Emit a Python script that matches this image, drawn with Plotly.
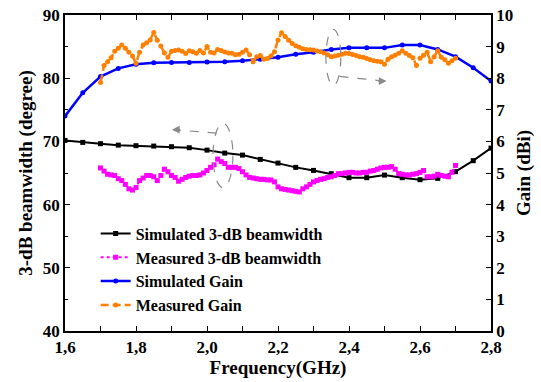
import plotly.graph_objects as go

# Simulated results (every 0.05 GHz)
sim_freq = [1.60, 1.65, 1.70, 1.75, 1.80, 1.85, 1.90, 1.95, 2.00, 2.05, 2.10, 2.15,
            2.20, 2.25, 2.30, 2.35, 2.40, 2.45, 2.50, 2.55, 2.60, 2.65, 2.70, 2.75, 2.80]
sim_bw = [70.16, 69.84, 69.64, 69.41, 69.32, 69.26, 69.16, 69.00, 68.62, 68.15, 67.83, 67.15,
          66.57, 65.89, 65.41, 64.89, 64.26, 64.26, 64.67, 64.26, 63.94, 64.15, 65.21, 66.95, 68.94]
sim_gain = [6.80, 7.54, 8.05, 8.31, 8.44, 8.49, 8.50, 8.50, 8.51, 8.52, 8.55, 8.60,
            8.66, 8.76, 8.82, 8.91, 8.96, 8.96, 8.96, 9.05, 9.05, 8.91, 8.68, 8.33, 7.91]

# Measured results (every 0.01 GHz, 1.70 - 2.70 GHz)
meas_freq = [round(1.70 + 0.01 * i, 2) for i in range(101)]
meas_bw = [
    65.8, 65.3, 64.8, 64.7, 64.6, 64.1, 63.8, 63.2, 62.5, 62.3,
    62.7, 63.8, 64.2, 64.6, 64.6, 64.4, 63.8, 64.6, 65.6, 65.2,
    64.6, 64.3, 63.7, 64.0, 64.3, 64.5, 64.6, 64.6, 64.7, 65.0,
    65.4, 65.9, 66.3, 67.2, 66.8, 66.5, 65.9, 65.9, 65.9, 65.7,
    65.2, 64.7, 64.3, 64.2, 64.1, 64.0, 64.0, 63.9, 63.9, 63.6,
    62.8, 62.5, 62.4, 62.3, 62.2, 62.1, 62.0, 62.5, 62.8, 63.2,
    63.6, 63.8, 64.0, 64.1, 64.3, 64.4, 64.6, 64.9, 64.9, 65.0,
    65.1, 65.1, 65.0, 65.0, 65.1, 65.1, 65.3, 65.4, 65.6, 65.8,
    65.9, 65.9, 66.0, 65.6, 64.9, 64.8, 64.7, 64.7, 64.8, 64.9,
    65.1, 65.4, 64.4, 64.4, 64.5, 64.8, 64.6, 64.5, 64.4, 65.1,
    66.2]
meas_gain = [
    7.86, 8.40, 8.52, 8.65, 8.85, 8.95, 9.05, 8.95, 8.82, 8.70,
    8.47, 8.82, 9.05, 9.12, 9.21, 9.45, 9.20, 9.02, 8.80, 8.66,
    8.85, 8.88, 8.89, 8.85, 8.78, 8.87, 8.84, 8.79, 8.88, 8.80,
    9.00, 8.82, 8.80, 8.91, 8.88, 8.83, 8.80, 8.79, 8.74, 8.76,
    8.82, 8.89, 8.74, 8.52, 8.68, 8.72, 8.60, 8.62, 8.70, 8.84,
    9.21, 9.44, 9.32, 9.20, 9.10, 9.03, 8.98, 8.93, 8.91, 8.90,
    8.89, 8.86, 8.84, 8.80, 8.74, 8.68, 8.70, 8.73, 8.76, 8.79,
    8.78, 8.75, 8.72, 8.68, 8.66, 8.62, 8.58, 8.55, 8.54, 8.52,
    8.44, 8.60, 8.68, 8.73, 8.79, 8.87, 8.79, 8.72, 8.65, 8.40,
    8.63, 8.73, 8.82, 8.52, 8.68, 8.87, 8.66, 8.58, 8.47, 8.55,
    8.63]

FONT = "Liberation Serif"
BOLD = dict(family=FONT, color="black", weight="bold")

fig = go.Figure()
fig.add_trace(go.Scatter(
    x=sim_freq, y=sim_bw, name="Simulated 3-dB beamwidth", mode="lines+markers",
    line=dict(color="black", width=2), marker=dict(symbol="square", size=5, color="black")))
fig.add_trace(go.Scatter(
    x=meas_freq, y=meas_bw, name="Measured 3-dB beamwidth", mode="lines+markers",
    line=dict(color="#FF00FF", width=2, dash="dot"),
    marker=dict(symbol="square", size=5, color="#FF00FF")))
fig.add_trace(go.Scatter(
    x=sim_freq, y=sim_gain, name="Simulated Gain", mode="lines+markers", yaxis="y2",
    line=dict(color="#0000FF", width=2.5), marker=dict(symbol="circle", size=5, color="#0000FF")))
fig.add_trace(go.Scatter(
    x=meas_freq, y=meas_gain, name="Measured Gain", mode="lines+markers", yaxis="y2",
    line=dict(color="#FF8000", width=2.5, dash="8px,4px"),
    marker=dict(symbol="circle", size=5, color="#FF8000")))

# Dashed ellipses marking which curves belong to which axis
grey = "#8a8a8a"
fig.add_shape(type="circle", xref="x", yref="y", x0=2.017, x1=2.073, y0=62.7, y1=72.85,
              line=dict(color=grey, width=1.2, dash="dash"))
fig.add_shape(type="circle", xref="x", yref="y", x0=2.335, x1=2.377, y0=78.86, y1=87.72,
              line=dict(color=grey, width=1.2, dash="dash"))
fig.add_shape(type="line", xref="x", yref="y", x0=2.027, y0=71.31, x1=1.915, y1=71.8,
              line=dict(color=grey, width=1.2, dash="dash"))
fig.add_shape(type="line", xref="x", yref="y", x0=2.373, y0=80.28, x1=2.49, y1=79.6,
              line=dict(color=grey, width=1.2, dash="dash"))
fig.add_annotation(x=1.901, y=71.85, xref="x", yref="y", ax=10, ay=0, text="",
                   showarrow=True, arrowhead=2, arrowsize=1.3, arrowwidth=1.2, arrowcolor=grey)
fig.add_annotation(x=2.506, y=79.54, xref="x", yref="y", ax=-10, ay=0, text="",
                   showarrow=True, arrowhead=2, arrowsize=1.3, arrowwidth=1.2, arrowcolor=grey)

axis_common = dict(
    showgrid=False, zeroline=False, showline=True, linecolor="black", linewidth=1.5,
    ticks="inside", ticklen=5, tickwidth=1.2, tickcolor="black", automargin=False,
    tickfont=dict(size=17, **BOLD),
)
minor_common = dict(ticks="inside", ticklen=3, tickcolor="black", tickwidth=1.2)

fig.update_layout(
    width=541, height=382,
    margin=dict(l=65, r=50, t=15, b=51),
    paper_bgcolor="white", plot_bgcolor="white",
    separators=",.",
    font=dict(family=FONT, color="black"),
    showlegend=True,
    legend=dict(x=0.072, y=0.362, xanchor="left", yanchor="top",
                bgcolor="rgba(0,0,0,0)", font=dict(size=16, **BOLD),
                itemwidth=30, tracegroupgap=0),
    xaxis=dict(range=[1.6, 2.8], tickvals=[1.6, 1.8, 2.0, 2.2, 2.4, 2.6, 2.8], tickformat=".1f",
               mirror="allticks",
               minor=dict(tickvals=[1.7, 1.9, 2.1, 2.3, 2.5, 2.7], **minor_common),
               title=dict(text="Frequency(GHz)", font=dict(size=19, **BOLD), standoff=2),
               **axis_common),
    yaxis=dict(range=[40, 90], tickvals=[40, 50, 60, 70, 80, 90],
               minor=dict(tickvals=[45, 55, 65, 75, 85], **minor_common),
               title=dict(text="3-dB beamwidth (degree)", font=dict(size=19, **BOLD), standoff=5),
               **axis_common),
    yaxis2=dict(range=[0, 10], tickvals=list(range(0, 11)), overlaying="y", side="right",
                title=dict(text="Gain (dBi)", font=dict(size=19, **BOLD), standoff=5),
                **axis_common),
)

fig.write_html("out.html")
